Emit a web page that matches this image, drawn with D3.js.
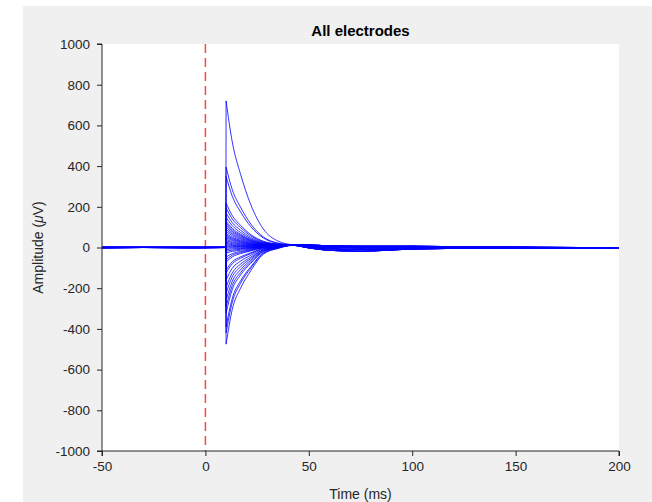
<!DOCTYPE html>
<html>
<head>
<meta charset="utf-8">
<script src="https://cdn.jsdelivr.net/npm/d3@7"></script>
<style>
  html, body { margin: 0; padding: 0; background: #ffffff; }
  svg { display: block; font-family: "Liberation Sans", Arial, Helvetica, sans-serif; }
</style>
</head>
<body>
<svg id="chart" width="652" height="502"></svg>
<script>
// ---- Data ----
const title = "All electrodes";
const xLabel = "Time (ms)";
const xTicks = [-50, 0, 50, 100, 150, 200];
const yTicks = [-1000, -800, -600, -400, -200, 0, 200, 400, 600, 800, 1000];
const stimulusTime = 0;

// sample times (ms) shared by every electrode trace
const times = [-50, -30, -5, 9.9, 10, 13, 17, 22, 28, 35, 42, 50, 60, 75, 100, 140, 200];
const onsetIndex = 4; // index of the 10 ms artifact onset in `times`

// amplitude (µV) of each electrode at the sample times above
const electrodes = [
  [0,1,0,0, 720,518,360,209,91,32,14, 10,6,4,5,1,-2],
  [1,0,-1,0, 395,284,198,115,52,22,13, 4,-6,-10,-4,-1,-3],
  [-1,0,1,1, 350,252,175,102,47,20,12, 12,8,6,6,2,-1],
  [0,1,0,0, 218,157,109,63,31,17,12, -2,-14,-18,-8,-3,-4],
  [1,0,-1,0, 195,140,98,57,28,16,11, 7,2,-2,2,0,-2],
  [-1,0,1,1, 170,122,85,49,25,15,12, 10,6,4,5,1,-2],
  [0,1,0,0, 148,107,74,43,23,14,11, 4,-6,-10,-4,-1,-3],
  [1,0,-1,0, 130,94,65,38,21,14,12, 12,8,6,6,2,-1],
  [-1,0,1,1, 120,86,60,35,19,14,11, 7,2,-2,2,0,-2],
  [0,1,0,0, 110,79,55,32,18,13,12, 10,6,4,5,1,-2],
  [1,0,-1,0, 100,72,50,29,17,13,11, -2,-14,-18,-8,-3,-4],
  [-1,0,1,1, 90,65,45,26,16,13,12, 12,8,6,6,2,-1],
  [0,1,0,0, 80,58,40,23,15,12,11, 4,-6,-10,-4,-1,-3],
  [1,0,-1,0, 70,50,35,20,13,12,12, 7,2,-2,2,0,-2],
  [-1,0,1,1, 62,45,31,18,12,12,11, 10,6,4,5,1,-2],
  [0,1,0,0, 55,40,28,16,12,12,12, 12,8,6,6,2,-1],
  [1,0,-1,0, 48,35,24,14,11,11,11, 4,-6,-10,-4,-1,-3],
  [-1,0,1,1, 40,29,20,12,10,11,12, 7,2,-2,2,0,-2],
  [0,1,0,0, 33,24,17,10,9,11,11, 10,6,4,5,1,-2],
  [1,0,-1,0, 26,19,13,8,8,11,12, -2,-14,-18,-8,-3,-4],
  [-1,0,1,1, 20,14,10,6,7,11,11, 12,8,6,6,2,-1],
  [0,1,0,0, 14,10,7,4,7,10,12, 7,2,-2,2,0,-2],
  [1,0,-1,0, 8,6,4,2,6,10,11, 4,-6,-10,-4,-1,-3],
  [-1,0,1,1, 3,2,2,1,5,10,12, 10,6,4,5,1,-2],
  [0,1,0,0, -3,-2,-2,-1,5,10,11, 12,8,6,6,2,-1],
  [1,0,-1,0, -10,-7,-5,-3,4,10,12, 7,2,-2,2,0,-2],
  [-1,0,1,1, -18,-13,-9,-5,3,9,11, -2,-14,-18,-8,-3,-4],
  [0,1,0,0, -27,-19,-14,-8,2,9,12, 10,6,4,5,1,-2],
  [1,0,-1,0, -47,-30,-20,-11,1,4,11, 4,-6,-10,-4,-1,-3],
  [-1,0,1,1, -60,-38,-25,-14,0,4,12, 12,8,6,6,2,-1],
  [0,1,0,0, -72,-46,-30,-17,-1,4,11, 7,2,-2,2,0,-2],
  [1,0,-1,0, -110,-70,-46,-26,-4,3,12, 10,6,4,5,1,-2],
  [-1,0,1,1, -125,-80,-53,-30,-5,3,11, -2,-14,-18,-8,-3,-4],
  [0,1,0,0, -160,-102,-67,-38,-8,2,12, 12,8,6,6,2,-1],
  [1,0,-1,0, -195,-125,-82,-47,-11,1,11, 4,-6,-10,-4,-1,-3],
  [-1,0,1,1, -225,-144,-95,-54,-13,1,12, 7,2,-2,2,0,-2],
  [0,1,0,0, -260,-166,-109,-62,-16,0,11, 10,6,4,5,1,-2],
  [1,0,-1,0, -292,-187,-123,-70,-18,-1,12, -2,-14,-18,-8,-3,-4],
  [-1,0,1,1, -322,-206,-135,-77,-21,-1,11, 12,8,6,6,2,-1],
  [0,1,0,0, -390,-250,-164,-94,-26,-3,12, 7,2,-2,2,0,-2],
  [1,0,-1,0, -420,-269,-176,-101,-29,-3,11, 4,-6,-10,-4,-1,-3],
  [-1,0,1,1, -475,-304,-200,-114,-33,-5,10, 10,6,4,5,1,-2]
];

// ---- Layout ----
const svg = d3.select("#chart");
const W = 652, H = 502;
const plot = { left: 102, top: 44, right: 619, bottom: 451 };
const axisColor = "#262626";
const fontFam = '"Liberation Sans", Arial, Helvetica, sans-serif';

// figure background
svg.append("rect").attr("x", 23).attr("y", 6).attr("width", W - 23).attr("height", H - 6)
  .attr("fill", "#f0f0f0");
// axes background
svg.append("rect").attr("x", plot.left).attr("y", plot.top)
  .attr("width", plot.right - plot.left).attr("height", plot.bottom - plot.top)
  .attr("fill", "#ffffff");

const x = d3.scaleLinear().domain([-50, 200]).range([plot.left, plot.right]);
const y = d3.scaleLinear().domain([-1000, 1000]).range([plot.bottom, plot.top]);

svg.append("clipPath").attr("id", "clip").append("rect")
  .attr("x", plot.left).attr("y", plot.top)
  .attr("width", plot.right - plot.left).attr("height", plot.bottom - plot.top);

// pre-onset part (incl. the vertical step) is linear; decay part is smooth
const preLine = d3.line()
  .x(d => x(d[0])).y(d => y(d[1]))
  .curve(d3.curveLinear);
const postLine = d3.line()
  .x(d => x(d[0])).y(d => y(d[1]))
  .curve(d3.curveMonotoneX);

const pairs = electrodes.map(vals => vals.map((v, i) => [times[i], v]));

const g = svg.append("g").attr("clip-path", "url(#clip)");

// stimulus marker
g.append("line")
  .attr("x1", x(stimulusTime)).attr("x2", x(stimulusTime))
  .attr("y1", y(1000)).attr("y2", y(-1000))
  .attr("stroke", "#ff4545")
  .attr("stroke-width", 1.5)
  .attr("stroke-dasharray", "9,5");

g.selectAll("path.trace").data(pairs).join("path")
  .attr("class", "trace")
  .attr("d", p => preLine(p.slice(0, onsetIndex + 1)) + postLine(p.slice(onsetIndex)).replace(/^M/, "L"))
  .attr("fill", "none")
  .attr("stroke", "#0000ff")
  .attr("stroke-width", 1)
  .attr("stroke-opacity", 0.8)
  .attr("stroke-linejoin", "miter");

// axes
const fmt = d => String(d);
const xAxis = d3.axisBottom(x).tickValues(xTicks).tickSize(5).tickPadding(5).tickFormat(fmt);
const yAxis = d3.axisLeft(y).tickValues(yTicks).tickSize(5).tickPadding(7).tickFormat(fmt);

const gx = svg.append("g").attr("transform", `translate(0,${plot.bottom})`).call(xAxis);
const gy = svg.append("g").attr("transform", `translate(${plot.left},0)`).call(yAxis);
[gx, gy].forEach(a => {
  a.select(".domain").attr("stroke", axisColor).attr("stroke-width", 1);
  a.selectAll(".tick line").attr("stroke", axisColor).attr("stroke-width", 1);
  a.selectAll(".tick text").attr("fill", axisColor)
    .style("font-size", "13.5px")
    .style("font-family", fontFam);
});
gx.select(".domain").attr("d", `M${plot.left},5V0H${plot.right}V5`);
gy.select(".domain").attr("d", `M-5,${plot.bottom}H0V${plot.top}H-5`);

// title
svg.append("text").attr("x", (plot.left + plot.right) / 2).attr("y", 36)
  .attr("text-anchor", "middle").attr("fill", "#000")
  .style("font-size", "15px").style("font-weight", "bold")
  .text(title);

// x label
svg.append("text").attr("x", (plot.left + plot.right) / 2).attr("y", 499)
  .attr("text-anchor", "middle").attr("fill", axisColor)
  .style("font-size", "14px")
  .text(xLabel);

// y label with Greek mu
const yl = svg.append("text")
  .attr("transform", `translate(43,${(plot.top + plot.bottom) / 2}) rotate(-90)`)
  .attr("text-anchor", "middle").attr("fill", axisColor)
  .style("font-size", "14px");
yl.append("tspan").text("Amplitude (");
yl.append("tspan").style("font-style", "italic").text("\u03BC");
yl.append("tspan").text("V)");
</script>
</body>
</html>
